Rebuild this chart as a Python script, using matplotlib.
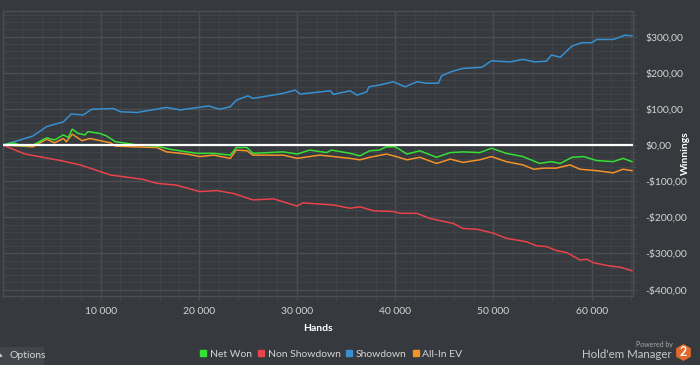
import matplotlib
matplotlib.use("Agg")
import matplotlib.pyplot as plt
from matplotlib.ticker import FuncFormatter, MultipleLocator
from matplotlib.patches import RegularPolygon, Rectangle
from matplotlib.lines import Line2D

# ---------------- data ----------------
blue_hands = [0, 1800, 3100, 4500, 6200, 7000, 8200, 9100, 11300, 12000, 13700, 16700, 18100,
              21000, 22100, 23200, 23800, 25000, 25500, 28600, 29800, 30300, 33400, 33700,
              35400, 36100, 37100, 37300, 38400, 39800, 41000, 42200, 43200, 44400, 44700,
              45700, 46900, 48800, 49800, 51700, 53000, 54200, 55400, 55900, 56800, 58000,
              59000, 60000, 60500, 62200, 63400, 64100]
showdown = [0, 14, 25, 51, 64, 86, 83, 99, 101, 92, 90, 104, 97, 108, 99, 106, 124, 136, 129,
            143, 152, 141, 150, 140, 150, 138, 147, 161, 166, 175, 161, 175, 171, 171, 191, 203,
            212, 215, 233, 230, 237, 230, 232, 249, 243, 274, 283, 283, 292, 292, 304, 302]

red_hands = [0, 2300, 5900, 7900, 11000, 14300, 15700, 17700, 20100, 21800, 23500, 25500,
             27600, 30000, 30600, 33700, 35400, 36400, 37800, 39800, 40500, 42200, 43500,
             45900, 46900, 48300, 50000, 51300, 53400, 54400, 55400, 56400, 57500, 58800,
             59500, 60200, 61900, 62900, 64100]
non_showdown = [0, -25, -43, -55, -83, -95, -106, -111, -129, -126, -134, -152, -149, -169,
                -160, -166, -175, -171, -182, -184, -189, -189, -203, -217, -231, -233, -244,
                -258, -268, -279, -281, -292, -298, -318, -316, -326, -335, -338, -348]

green_hands = [0, 1100, 2100, 3100, 4500, 5300, 6200, 6700, 7100, 7700, 8400, 8700, 9900,
               10600, 11500, 12600, 13700, 15700, 17100, 18800, 19800, 21500, 23200, 23800,
               24900, 25500, 28600, 30000, 31300, 33000, 33500, 35400, 36400, 37400, 38400,
               39100, 40000, 41200, 42500, 44200, 45600, 46900, 48600, 49800, 51300, 53000,
               54700, 55900, 56800, 58000, 59200, 60500, 62200, 63200, 64100]
net_won = [0, 6, -3, 0, 20, 14, 28, 21, 44, 32, 28, 37, 32, 25, 9, 5, 0, -3, -12, -19, -23,
           -23, -28, -7, -7, -23, -19, -25, -14, -21, -14, -23, -30, -16, -14, -5, -5, -25,
           -16, -34, -21, -19, -21, -9, -23, -32, -51, -46, -51, -34, -32, -43, -46, -37, -46]

orange_hands = [0, 3100, 4500, 5300, 6200, 6500, 7100, 8100, 8900, 11000, 11500, 13300,
                15700, 16700, 18800, 20100, 21500, 23200, 23800, 24900, 25500, 28600, 30000,
                32300, 33700, 35400, 36400, 37400, 39100, 40100, 41200, 42500, 44200, 45600,
                46900, 48600, 49800, 51300, 53000, 54100, 55100, 56400, 57800, 58800, 60500,
                62200, 63200, 64100]
allin_ev = [0, -5, 16, 6, 18, 9, 30, 12, 18, 6, -3, -5, -7, -19, -25, -32, -28, -37, -14, -16,
            -28, -28, -37, -28, -32, -37, -41, -34, -25, -32, -41, -34, -51, -39, -48, -41,
            -32, -46, -55, -67, -64, -64, -55, -67, -71, -77, -67, -71]

x_ticks = [10000, 20000, 30000, 40000, 50000, 60000]
y_ticks = [-400, -300, -200, -100, 0, 100, 200, 300]
legend_labels = ["Net Won", "Non Showdown", "Showdown", "All-In EV"]

# ---------------- style ----------------
BG = "#36393d"
GRID_MAJ = "#4b4e53"
GRID_MIN = "#404347"
TXT = "#d4d4d4"
C_GREEN = "#35e035"
C_RED = "#e8434a"
C_BLUE = "#3690d2"
C_ORANGE = "#f4922c"
FONT = ["Lato", "DejaVu Sans"]
FS = 7.5

plt.rcParams["font.family"] = FONT

fig = plt.figure(figsize=(7.0, 3.65), dpi=100, facecolor=BG)
W, H = 700.0, 365.0
left, right, top, bottom = 3.3, 632.7, 11.3, 295.7
ax = fig.add_axes([left / W, 1 - bottom / H, (right - left) / W, (bottom - top) / H])
ax.set_facecolor(BG)

ax.set_xlim(80, 64180)
ax.set_ylim(-417, 370)

ax.xaxis.set_minor_locator(MultipleLocator(2000))
ax.yaxis.set_minor_locator(MultipleLocator(20))
ax.set_xticks(x_ticks)
ax.set_yticks(y_ticks)

ax.grid(True, which="major", color=GRID_MAJ, lw=1.0, zorder=0)
ax.grid(True, which="minor", color=GRID_MIN, lw=0.8, zorder=0)
ax.set_axisbelow(True)

for s in ax.spines.values():
    s.set_color(GRID_MAJ)
    s.set_linewidth(1.0)

ax.yaxis.tick_right()


def yfmt(v, pos):
    s = f"${abs(v):,.2f}".replace(",", " ").replace(".", ",")
    return ("-" if v < 0 else "") + s


def xfmt(v, pos):
    return f"{int(v):,}".replace(",", " ")


ax.yaxis.set_major_formatter(FuncFormatter(yfmt))
ax.xaxis.set_major_formatter(FuncFormatter(xfmt))
ax.tick_params(axis="both", which="both", colors=GRID_MAJ, labelcolor=TXT, labelsize=FS)
ax.tick_params(axis="y", which="major", length=3, pad=6)
ax.tick_params(axis="y", which="minor", length=2)
ax.tick_params(axis="x", which="major", length=3, pad=5)
ax.tick_params(axis="x", which="minor", length=3)

ax.set_xlabel("Hands", color="white", fontsize=FS, fontweight="bold", labelpad=6)
fig.text(685 / W, 1 - 153 / H, "Winnings", color="white", fontsize=FS, fontweight="bold",
         rotation=90, ha="center", va="center")

lw = 1.1
ax.plot(blue_hands, showdown, color=C_BLUE, lw=lw, zorder=3)
ax.plot(red_hands, non_showdown, color=C_RED, lw=lw, zorder=3)
ax.plot(orange_hands, allin_ev, color=C_ORANGE, lw=lw, zorder=4)
ax.plot(green_hands, net_won, color=C_GREEN, lw=lw, zorder=5)
ax.axhline(0, color="white", lw=1.6, zorder=6)

# legend
handles = [Line2D([], [], marker="s", ls="none", color=c, markersize=4.5)
           for c in (C_GREEN, C_RED, C_BLUE, C_ORANGE)]
leg = fig.legend(handles, legend_labels, ncol=4, loc="center",
                 bbox_to_anchor=(331 / W, 1 - 354 / H), frameon=False,
                 fontsize=FS, handlelength=0.7, handletextpad=0.3, columnspacing=0.5,
                 labelcolor=TXT)

# Options button
fig.patches.append(Rectangle((0, 0), 44 / W, 18 / H, transform=fig.transFigure,
                             facecolor="#42454a", edgecolor="none"))
fig.text(10 / W, 1 - 355.5 / H, "Options", color=TXT, fontsize=FS, va="center", ha="left")
fig.text(0.5 / W, 1 - 355.5 / H, "▴", color=TXT, fontsize=5, va="center", ha="center",
         family=["DejaVu Sans"])

# Powered by Hold'em Manager
fig.text(673 / W, 1 - 345 / H, "Powered by", color="#a8a8a8", fontsize=5, ha="right",
         va="center")
fig.text(672 / W, 1 - 354.5 / H, "Hold'em Manager", color="#c8c8c8", fontsize=8.3,
         ha="right", va="center")
hexa = RegularPolygon((6.835, (365 - 352.5) / 100.0), numVertices=6, radius=0.085,
                      orientation=0, transform=fig.dpi_scale_trans, facecolor="#e0692b",
                      edgecolor="none")
fig.patches.append(hexa)
fig.text(683.5 / W, 1 - 352.5 / H, "2", color="white", fontsize=9, fontweight="bold",
         ha="center", va="center")

fig.savefig("out.png", dpi=100, facecolor=BG)
